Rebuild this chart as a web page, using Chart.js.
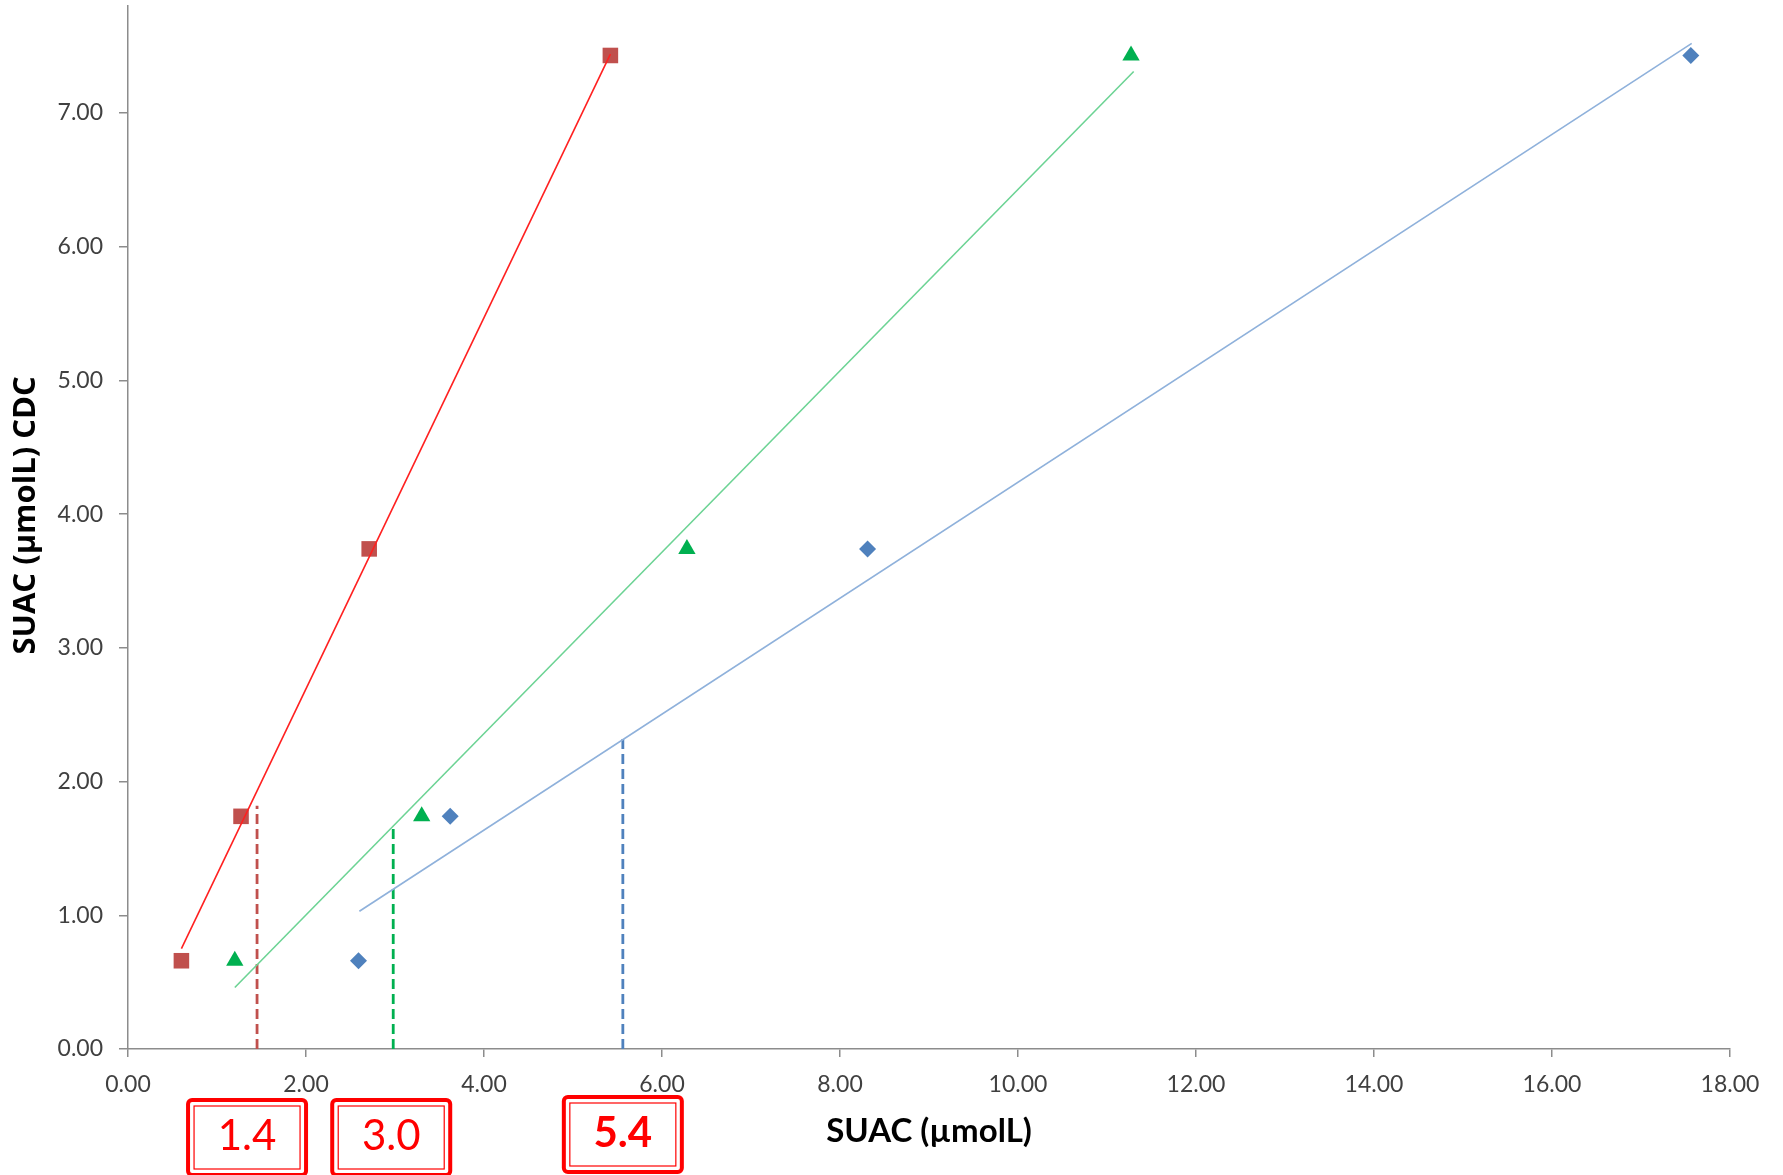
<!DOCTYPE html>
<html>
<head>
<meta charset="utf-8">
<script src="https://cdn.jsdelivr.net/npm/chart.js@4.4.1/dist/chart.umd.min.js"></script>
<style>
  html, body { margin: 0; padding: 0; background: #fff; }
  #chart-canvas { display: block; }
</style>
</head>
<body>
<canvas id="chart-canvas" width="1783" height="1175"></canvas>
<script>
// measured CDC levels (y) shared by the three series
const cdcLevels = [0.66, 1.74, 3.74, 7.43];

// SUAC values for each series
const redSuac = [0.60, 1.27, 2.71, 5.42];
const greenSuac = [1.20, 3.30, 6.28, 11.27];
const blueSuac = [2.59, 3.62, 8.31, 17.56];

// trend line end points [x, y]
const redTrend = [[0.60, 0.75], [5.42, 7.44]];
const greenTrend = [[1.20, 0.46], [11.30, 7.31]];
const blueTrend = [[2.60, 1.03], [17.57, 7.52]];

// cut-off markers: x value, height of the dashed drop line, label
const cutoffX = [1.45, 2.98, 5.56];
const cutoffTop = [1.82, 1.68, 2.32];
const cutoffLabels = ["1.4", "3.0", "5.4"];

const xTicks = [0, 2, 4, 6, 8, 10, 12, 14, 16, 18];
const yTicks = [0, 1, 2, 3, 4, 5, 6, 7];

const RED = "#C0504D", GREEN = "#00B050", BLUE = "#4F81BD";
const AXIS = "#8C8C8C";

const toPoints = (xs, ys) => xs.map((x, i) => ({x: x, y: ys[i]}));
const pairToPoints = pair => pair.map(p => ({x: p[0], y: p[1]}));

const markerSet = (label, xs, color, style, radius) => ({
  type: 'scatter',
  label: label,
  data: toPoints(xs, cdcLevels),
  pointStyle: style,
  pointRadius: radius,
  pointHoverRadius: radius,
  backgroundColor: color,
  borderColor: color,
  borderWidth: 0,
  showLine: false,
  order: 2
});

const lineSet = (label, pts, color, width, dash) => ({
  type: 'line',
  label: label,
  data: pts,
  borderColor: color,
  borderWidth: width,
  borderDash: dash || [],
  pointRadius: 0,
  fill: false,
  tension: 0,
  order: 1
});

const dropLine = i => lineSet('cutoff ' + cutoffLabels[i],
  [{x: cutoffX[i], y: 0}, {x: cutoffX[i], y: cutoffTop[i]}],
  [RED, GREEN, BLUE][i], 2.8, [10, 5]);

// boxed labels under the x axis
const boxNudge = [-10, -2, 0];
const boxBold = [false, false, true];
const calloutPlugin = {
  id: 'callouts',
  afterDraw(chart) {
    const ctx = chart.ctx;
    const xs = chart.scales.x;
    ctx.save();
    cutoffLabels.forEach((txt, i) => {
      const cx = xs.getPixelForValue(cutoffX[i]) + boxNudge[i];
      const w = 118, h = 75;
      const left = cx - w / 2, top = i === 2 ? 1097 : 1100;
      ctx.strokeStyle = "#FF0000";
      ctx.lineWidth = 4;
      ctx.beginPath();
      ctx.roundRect(left, top, w, h, 4);
      ctx.stroke();
      ctx.lineWidth = 1.2;
      ctx.strokeRect(left + 6, top + 6, w - 12, h - 12);
      ctx.fillStyle = "#FF0000";
      ctx.font = (boxBold[i] ? "bold " : "") + "42px Lato";
      ctx.textAlign = "center";
      ctx.textBaseline = "middle";
      ctx.fillText(txt, cx, top + 36);
    });
    ctx.restore();
  }
};

new Chart(document.querySelector("#chart-canvas"), {
  data: {
    datasets: [
      markerSet('Red', redSuac, RED, 'rect', 11),
      markerSet('Green', greenSuac, GREEN, 'triangle', 10),
      markerSet('Blue', blueSuac, BLUE, 'rectRot', 8.5),
      lineSet('Red trend', pairToPoints(redTrend), "#FF2020", 1.6),
      lineSet('Green trend', pairToPoints(greenTrend), "#6CD394", 1.6),
      lineSet('Blue trend', pairToPoints(blueTrend), "#8FB1DB", 1.6),
      dropLine(0),
      dropLine(1),
      dropLine(2)
    ]
  },
  options: {
    responsive: false,
    animation: false,
    layout: {autoPadding: false, padding: {top: 6, right: 53, bottom: 0, left: 0}},
    plugins: {
      legend: {display: false},
      tooltip: {enabled: false}
    },
    scales: {
      x: {
        type: 'linear',
        min: 0,
        max: 18,
        afterFit: s => { s.height = 126; s.paddingLeft = 0; s.paddingRight = 0; },
        afterBuildTicks: s => { s.ticks = xTicks.map(v => ({value: v})); },
        border: {display: true, color: AXIS, width: 1.5},
        grid: {display: true, drawOnChartArea: false, drawTicks: true, tickLength: 8, color: AXIS, lineWidth: 1.5},
        ticks: {
          color: "#404040",
          font: {family: "Lato", size: 23},
          padding: 14,
          maxRotation: 0,
          callback: v => Number(v).toFixed(2)
        },
        title: {
          display: true,
          text: 'SUAC (µmolL)',
          color: "#000",
          font: {family: "Lato", size: 33, weight: 'bold'},
          padding: {bottom: 24}
        }
      },
      y: {
        type: 'linear',
        min: 0,
        max: 7.8,
        afterFit: s => { s.width = 128; s.paddingTop = 0; s.paddingBottom = 0; },
        afterBuildTicks: s => { s.ticks = yTicks.map(v => ({value: v})); },
        border: {display: true, color: AXIS, width: 1.5},
        grid: {display: true, drawOnChartArea: false, drawTicks: true, tickLength: 9, color: AXIS, lineWidth: 1.5},
        ticks: {
          color: "#404040",
          font: {family: "Lato", size: 23},
          padding: 16,
          callback: v => Number(v).toFixed(2)
        },
        title: {
          display: true,
          text: '   SUAC (µmolL) CDC',
          color: "#000",
          font: {family: "Open Sans", size: 31, weight: 'bold'},
          padding: {top: 8}
        }
      }
    }
  },
  plugins: [calloutPlugin]
});
</script>
</body>
</html>
